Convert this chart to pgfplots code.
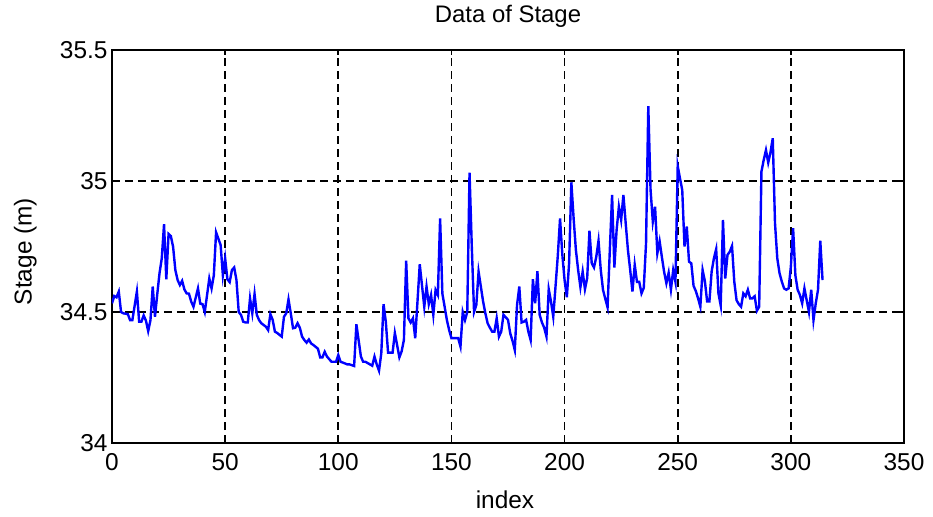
\documentclass[border=0pt]{standalone}
\usepackage{pgfplots}
\pgfplotsset{compat=1.18}
\usepackage{fontspec}
\setmainfont{Liberation Sans}
\pgfplotstableread{
i v
0 34.533
1 34.561
2 34.556
3 34.578
4 34.500
5 34.495
7 34.492
8 34.469
9 34.469
11 34.578
12 34.463
13 34.463
14 34.487
15 34.467
16 34.427
17 34.469
18 34.597
19 34.482
20 34.568
21 34.648
22 34.705
23 34.835
24 34.625
25 34.798
26 34.790
27 34.749
28 34.660
29 34.622
30 34.603
31 34.619
32 34.586
33 34.571
34 34.570
35 34.540
36 34.520
38 34.590
39 34.532
40 34.530
41 34.500
43 34.628
44 34.590
45 34.640
46 34.804
48 34.756
49 34.640
50 34.705
51 34.625
52 34.614
53 34.660
54 34.670
55 34.622
56 34.500
57 34.489
58 34.463
59 34.460
60 34.460
61 34.552
62 34.495
63 34.569
64 34.489
65 34.469
66 34.457
68 34.444
69 34.431
70 34.492
71 34.470
72 34.425
73 34.420
75 34.406
76 34.482
77 34.495
78 34.548
79 34.495
80 34.438
81 34.440
82 34.457
83 34.440
84 34.406
85 34.393
86 34.383
87 34.395
88 34.380
89 34.374
91 34.360
92 34.327
93 34.327
94 34.348
95 34.330
96 34.320
97 34.310
99 34.310
100 34.336
101 34.310
102 34.307
104 34.300
105 34.300
107 34.294
108 34.453
110 34.330
111 34.310
112 34.310
114 34.300
115 34.295
116 34.330
117 34.300
118 34.276
119 34.342
120 34.530
121 34.463
122 34.345
124 34.345
125 34.420
127 34.327
128 34.350
129 34.393
130 34.696
131 34.476
132 34.460
133 34.476
134 34.400
135 34.540
136 34.682
138 34.520
139 34.597
140 34.530
141 34.565
142 34.489
143 34.584
144 34.565
145 34.857
146 34.570
147 34.520
148 34.469
149 34.431
150 34.400
152 34.400
153 34.400
154 34.368
155 34.500
156 34.469
157 34.500
158 35.032
159 34.750
160 34.500
161 34.527
162 34.654
163 34.597
164 34.540
165 34.495
166 34.457
167 34.440
168 34.425
169 34.425
170 34.476
171 34.406
172 34.425
173 34.489
174 34.480
175 34.470
176 34.418
177 34.390
178 34.355
179 34.527
180 34.597
181 34.460
182 34.463
183 34.470
184 34.425
185 34.393
186 34.625
187 34.533
188 34.656
189 34.489
190 34.460
191 34.440
192 34.406
193 34.587
194 34.540
195 34.482
196 34.597
197 34.714
198 34.857
199 34.720
200 34.622
201 34.556
202 34.686
203 34.995
204 34.857
205 34.737
206 34.660
207 34.595
208 34.654
209 34.587
210 34.630
211 34.810
212 34.686
213 34.670
214 34.710
215 34.772
216 34.660
217 34.584
218 34.550
219 34.518
220 34.737
221 34.947
222 34.670
223 34.813
224 34.902
225 34.851
226 34.947
227 34.840
228 34.737
229 34.660
230 34.578
231 34.680
232 34.615
233 34.615
234 34.571
235 34.592
236 34.762
237 35.286
238 34.966
239 34.845
240 34.902
241 34.724
242 34.770
243 34.710
244 34.653
245 34.610
246 34.650
247 34.585
248 34.660
249 34.615
250 35.057
251 35.010
252 34.966
253 34.750
254 34.826
255 34.692
256 34.686
257 34.600
258 34.580
259 34.552
260 34.520
261 34.660
262 34.618
263 34.540
264 34.540
265 34.655
266 34.705
267 34.740
268 34.571
269 34.525
270 34.851
271 34.628
272 34.718
273 34.730
274 34.752
275 34.616
276 34.545
277 34.530
278 34.520
279 34.571
280 34.560
281 34.585
282 34.552
283 34.552
284 34.560
285 34.505
286 34.520
287 35.036
288 35.080
289 35.118
290 35.070
291 35.110
292 35.163
293 34.838
294 34.705
295 34.648
296 34.616
297 34.590
298 34.585
299 34.590
300 34.673
301 34.820
302 34.640
303 34.585
304 34.565
305 34.533
306 34.590
307 34.545
308 34.500
309 34.585
310 34.469
311 34.533
312 34.585
313 34.772
314 34.622
}\stagedata
\begin{document}
\begin{tikzpicture}
\path[use as bounding box] (-112bp,-74bp) rectangle (821bp,443bp);
\begin{axis}[
  at={(0,0)}, anchor=south west,
  scale only axis,
  width=792bp, height=393bp,
  xmin=0, xmax=350, ymin=34, ymax=35.5,
  xtick={0,50,...,350},
  ytick={34,34.5,35,35.5},
  /pgf/number format/assume math mode=true,
  tick label style={font=\fontsize{24.5}{28}\selectfont, black},
  xticklabel style={yshift=-7bp},
  yticklabel style={xshift=-1bp},
  tick align=inside,
  major tick length=5bp,
  every tick/.style={black, line width=1.8bp},
  axis line style={black, line width=2bp},
  grid=major,
  major grid style={black, line width=1.8bp, dash pattern=on 8bp off 5bp},
  title={Data of Stage},
  title style={font=\fontsize{24}{28}\selectfont, at={(axis description cs:0.5,1.0552)}, anchor=base},
  xlabel={index},
  xlabel style={font=\fontsize{24.5}{28}\selectfont, at={(axis description cs:0.4962,-0.1662)}, anchor=base},
  ylabel={Stage (m)},
  ylabel style={font=\fontsize{24.5}{28}\selectfont, at={(axis description cs:-0.1014,0.487)}, anchor=base, rotate=0},
]
\addplot[color={rgb,255:red,0;green,0;blue,255}, line width=2.4bp, mark=none] table[x=i, y=v] {\stagedata};
\end{axis}
\end{tikzpicture}
\end{document}
